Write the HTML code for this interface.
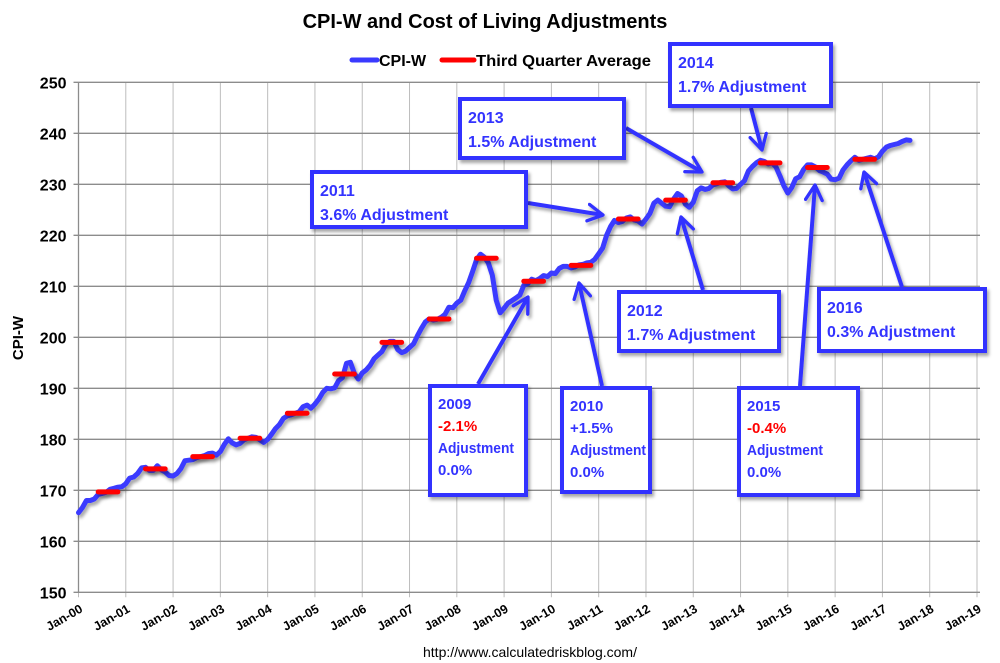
<!DOCTYPE html>
<html><head><meta charset="utf-8"><style>
body{margin:0;background:#fff;}
svg{display:block;font-family:"Liberation Sans",Arial,sans-serif;}
</style></head><body>
<svg id="chart" width="1000" height="663" viewBox="0 0 1000 663" xmlns="http://www.w3.org/2000/svg">
<defs>
<filter id="sh" filterUnits="userSpaceOnUse" x="0" y="0" width="1000" height="663"><feDropShadow dx="2" dy="3" stdDeviation="1.5" flood-color="#000" flood-opacity="0.35"/></filter>
<marker id="ah" viewBox="0 0 12 12" refX="10" refY="6" markerWidth="5" markerHeight="5" orient="auto"><path d="M1,1 L10,6 L1,11" fill="none" stroke="#3333ff" stroke-width="2" stroke-linecap="round" stroke-linejoin="round"/></marker>
</defs>
<text x="485" y="28" text-anchor="middle" font-size="20" font-weight="bold" fill="#000">CPI-W and Cost of Living Adjustments</text>
<g>
<line x1="352" y1="60" x2="377" y2="60" stroke="#3a3aff" stroke-width="5" stroke-linecap="round"/>
<text x="379" y="66" font-size="16" font-weight="bold">CPI-W</text>
<line x1="442" y1="60" x2="474" y2="60" stroke="#ff0000" stroke-width="5" stroke-linecap="round"/>
<text x="476" y="66" font-size="16" font-weight="bold" textLength="175" lengthAdjust="spacingAndGlyphs">Third Quarter Average</text>
</g>
<g id="grid"></g>
<g id="axes"></g>
<g id="series"></g>
<text transform="translate(23,338) rotate(-90)" text-anchor="middle" font-size="15" font-weight="bold">CPI-W</text>
<text x="530" y="657" text-anchor="middle" font-size="14">http://www.calculatedriskblog.com/</text>
<g id="notes"></g>
</svg>
<script>
const yearLabels = ["Jan-00","Jan-01","Jan-02","Jan-03","Jan-04","Jan-05","Jan-06","Jan-07","Jan-08","Jan-09","Jan-10","Jan-11","Jan-12","Jan-13","Jan-14","Jan-15","Jan-16","Jan-17","Jan-18","Jan-19"];
const yTicks = [150,160,170,180,190,200,210,220,230,240,250];
const cpiw = [
165.6,166.6,168.0,168.0,168.3,169.2,169.4,169.6,170.2,170.4,170.6,170.7,
171.3,172.4,172.6,173.3,174.4,174.5,173.9,173.9,174.8,174.0,173.6,172.9,
172.8,173.3,174.3,175.8,175.9,176.0,176.4,176.6,176.8,177.2,177.3,176.9,
177.6,179.0,180.1,179.3,178.9,179.2,179.9,180.2,180.5,180.4,179.9,179.4,
180.0,181.0,182.1,182.9,184.1,184.6,184.8,185.1,185.4,186.4,186.7,186.1,
186.9,187.9,189.2,190.0,189.9,190.1,191.5,192.1,194.9,195.1,192.9,191.8,
193.0,193.6,194.5,195.8,196.5,197.2,198.6,199.2,199.2,197.6,197.0,197.3,
198.0,198.7,200.3,201.7,203.0,203.6,203.4,203.5,203.9,204.5,205.9,205.8,
206.7,207.3,209.1,210.7,212.9,215.2,216.3,215.7,214.6,212.2,207.3,204.8,
205.7,206.7,207.2,207.7,208.3,210.2,210.5,211.4,211.1,211.5,212.1,211.9,
212.6,212.5,213.5,213.9,213.9,213.6,213.8,214.2,214.3,214.6,214.7,215.3,
216.4,217.5,220.0,221.7,222.9,222.5,222.7,223.4,223.6,223.0,222.8,222.2,
223.2,224.3,226.3,226.9,226.3,225.7,225.6,227.1,228.2,227.7,226.1,225.5,
226.5,228.7,229.3,229.0,229.2,229.9,230.1,230.4,230.5,229.7,229.1,229.2,
230.0,230.7,232.6,233.5,234.2,234.7,234.5,234.0,234.2,233.4,231.6,229.7,
228.3,229.4,231.1,231.5,232.9,233.8,233.8,233.4,232.7,232.4,232.0,231.0,
230.9,231.2,232.8,233.8,234.6,235.3,234.7,234.9,235.1,235.3,235.0,235.4,
236.5,237.3,237.6,237.8,238.0,238.4,238.7,238.6];
const q3Years = [2000,2001,2002,2003,2004,2005,2006,2007,2008,2009,2010,2011,2012,2013,2014,2015,2016];
const q3Avg = [169.7,174.2,176.6,180.2,185.1,192.8,199.0,203.6,215.5,211.0,214.1,223.2,226.9,230.3,234.2,233.3,234.9];

const NS="http://www.w3.org/2000/svg";
const X0=78.5, X1=977, Y0=592.3, Y1=82.3;
const xM = m => X0 + (X1-X0)*m/228;
const yV = v => Y0 - (Y0-Y1)*(v-150)/100;
function mk(tag, attrs, parent){const e=document.createElementNS(NS,tag);for(const k in attrs)e.setAttribute(k,attrs[k]);parent.appendChild(e);return e;}
const grid=document.getElementById('grid'), axes=document.getElementById('axes'), series=document.getElementById('series'), notes=document.getElementById('notes');

yearLabels.forEach((lab,i)=>{
  const x=xM(i*12);
  const l=mk('line',{x1:x,y1:Y1,x2:x,y2:Y0+5,stroke:'#bdbdbd','stroke-width':1},grid);
  
  
  const t=mk('text',{transform:`translate(${x+5},${Y0+19}) rotate(-30)`,'text-anchor':'end','font-size':12.5,'font-weight':'bold'},axes);
  t.textContent=lab;
  
  
});
yTicks.forEach(v=>{
  const y=yV(v);
  const l=mk('line',{x1:X0-5,y1:y,x2:X1+3,y2:y,stroke:'#8c8c8c','stroke-width':1.3},grid);
  
  
  const t=mk('text',{x:X0-12,y:y+6,'text-anchor':'end','font-size':16,'font-weight':'bold'},axes);
  t.textContent=v;
  
  
});
const ax=mk('line',{x1:X0,y1:Y1,x2:X0,y2:Y0,stroke:'#8c8c8c','stroke-width':1.3},axes);



const pts=cpiw.map((v,i)=>xM(i).toFixed(1)+','+yV(v).toFixed(1)).join(' ');
const pl=mk('polyline',{points:pts,fill:'none',stroke:'#3a3aff','stroke-width':5,'stroke-linejoin':'round','stroke-linecap':'round',filter:'url(#sh)'},series);


q3Years.forEach((yr,i)=>{
  const m=(yr-2000)*12;
  const l=mk('line',{x1:xM(m+5),y1:yV(q3Avg[i]),x2:xM(m+10),y2:yV(q3Avg[i]),stroke:'#ff0000','stroke-width':5,'stroke-linecap':'round',filter:'url(#sh)'},series);
  
  
});

const boxes=[
 {n:'2011',x:310,y:170,w:218,h:59,lines:[['2011','#3333ff'],[' 3.6% Adjustment','#3333ff']],a:[528,203,603,215]},
 {n:'2013',x:458,y:97,w:168,h:63,lines:[['2013','#3333ff'],['1.5% Adjustment','#3333ff']],a:[626,128,702,172]},
 {n:'2014',x:668,y:42,w:165,h:66,lines:[['2014','#3333ff'],['1.7% Adjustment','#3333ff']],a:[751,108,762,150]},
 {n:'2012',x:617,y:290,w:164,h:63,lines:[['2012','#3333ff'],['1.7% Adjustment','#3333ff']],a:[703,290,681,217]},
 {n:'2016',x:817,y:287,w:170,h:66,lines:[['2016','#3333ff'],['0.3% Adjustment','#3333ff']],a:[902,287,864,172]},
 {n:'2009',x:428,y:384,w:100,h:113,lines:[['2009','#3333ff'],['-2.1%','#ff0000'],['Adjustment','#3333ff'],['0.0%','#3333ff']],a:[478,384,528,297]},
 {n:'2010',x:560,y:386,w:92,h:108,lines:[['2010','#3333ff'],['+1.5%','#3333ff'],['Adjustment','#3333ff'],['0.0%','#3333ff']],a:[602,386,579,283]},
 {n:'2015',x:737,y:386,w:123,h:111,lines:[['2015','#3333ff'],['-0.4%','#ff0000'],['Adjustment','#3333ff'],['0.0%','#3333ff']],a:[800,386,815,185]}
];
boxes.forEach(b=>{
  const g=mk('g',{},notes);
  
  
  const ar=mk('line',{x1:b.a[0],y1:b.a[1],x2:b.a[2],y2:b.a[3],stroke:'#3333ff','stroke-width':4,'marker-end':'url(#ah)',filter:'url(#sh)'},g);
  
  
  const r=mk('rect',{x:b.x+2,y:b.y+2,width:b.w-4,height:b.h-4,fill:'#fff',stroke:'#3333ff','stroke-width':4,filter:'url(#sh)'},g);
  
  
  const four = b.lines.length>2;
  const step = four ? 22 : 24;
  b.lines.forEach((ln,i)=>{
    const attrs={x:b.x+10,y:b.y+(four?25:26)+i*step,'font-size':four?15:16,'font-weight':'bold',fill:ln[1],'xml:space':'preserve'};
    if(four && ln[0]==='Adjustment') {attrs.textLength=76; attrs.lengthAdjust='spacingAndGlyphs';}
    const t=mk('text',attrs,g);
    t.textContent=ln[0];
    
    
  });
});
</script>
</body></html>
